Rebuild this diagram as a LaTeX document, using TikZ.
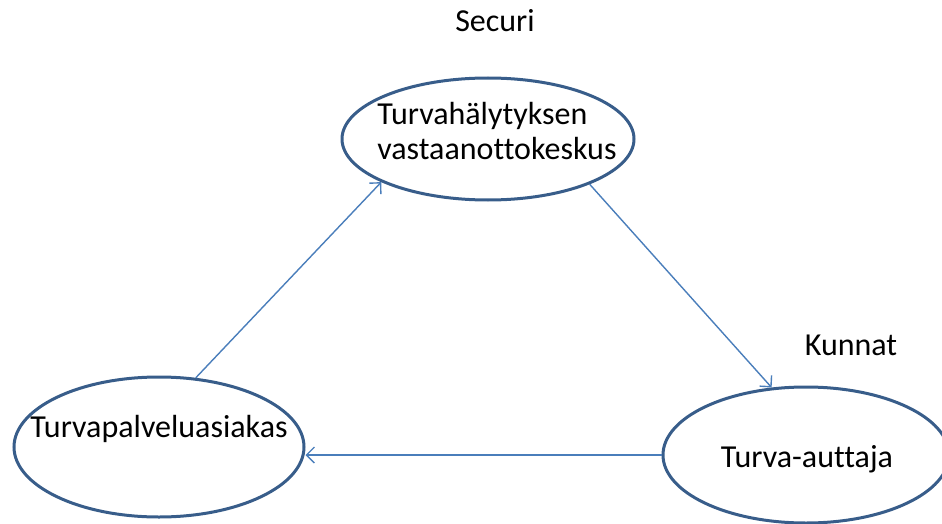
\documentclass[tikz,border=0pt]{standalone}
\usepackage{fontspec}
\setmainfont{Carlito}[Ligatures=NoCommon]
\usetikzlibrary{shapes.geometric,arrows.meta}
\definecolor{ringblue}{RGB}{56,93,138}
\definecolor{arrowblue}{RGB}{74,126,187}

\begin{document}
\begin{tikzpicture}[x=0.5pt,y=-0.5pt,
  ring/.style={ellipse,draw=ringblue,line width=1.5pt,inner sep=0pt},
  label/.style={inner sep=0pt,font=\fontsize{16}{17.5}\selectfont},
  link/.style={draw=arrowblue,line width=0.7pt,-{Straight Barb[length=4pt,width=8pt]}}]
\useasboundingbox (0,0) rectangle (942,524);
% Three actors
\node[ring,minimum width=146pt,minimum height=61pt] (centre) at (488,139) {};
\node[ring,minimum width=145pt,minimum height=70pt] (client) at (159,447) {};
\node[ring,minimum width=143pt,minimum height=68pt] (helper) at (806,455) {};

\node[label,anchor=base west,align=left] (centretext) at (377,160) {Turvahälytyksen\\vastaanottokeskus};
\node[label,anchor=base] (clienttext) at (159,437) {Turvapalveluasiakas};
\node[label,anchor=base] (helpertext) at (807,467) {Turva-auttaja};

\node[label,anchor=base] (securi) at (495,32) {Securi};
\node[label,anchor=base] (kunnat) at (851,355) {Kunnat};

\draw[link] (client.62) -- (centre.202);
\draw[link] (centre.336) -- (helper.117);
\draw[link] (helper.west) -- (client.east |- helper.west);
\end{tikzpicture}
\end{document}
